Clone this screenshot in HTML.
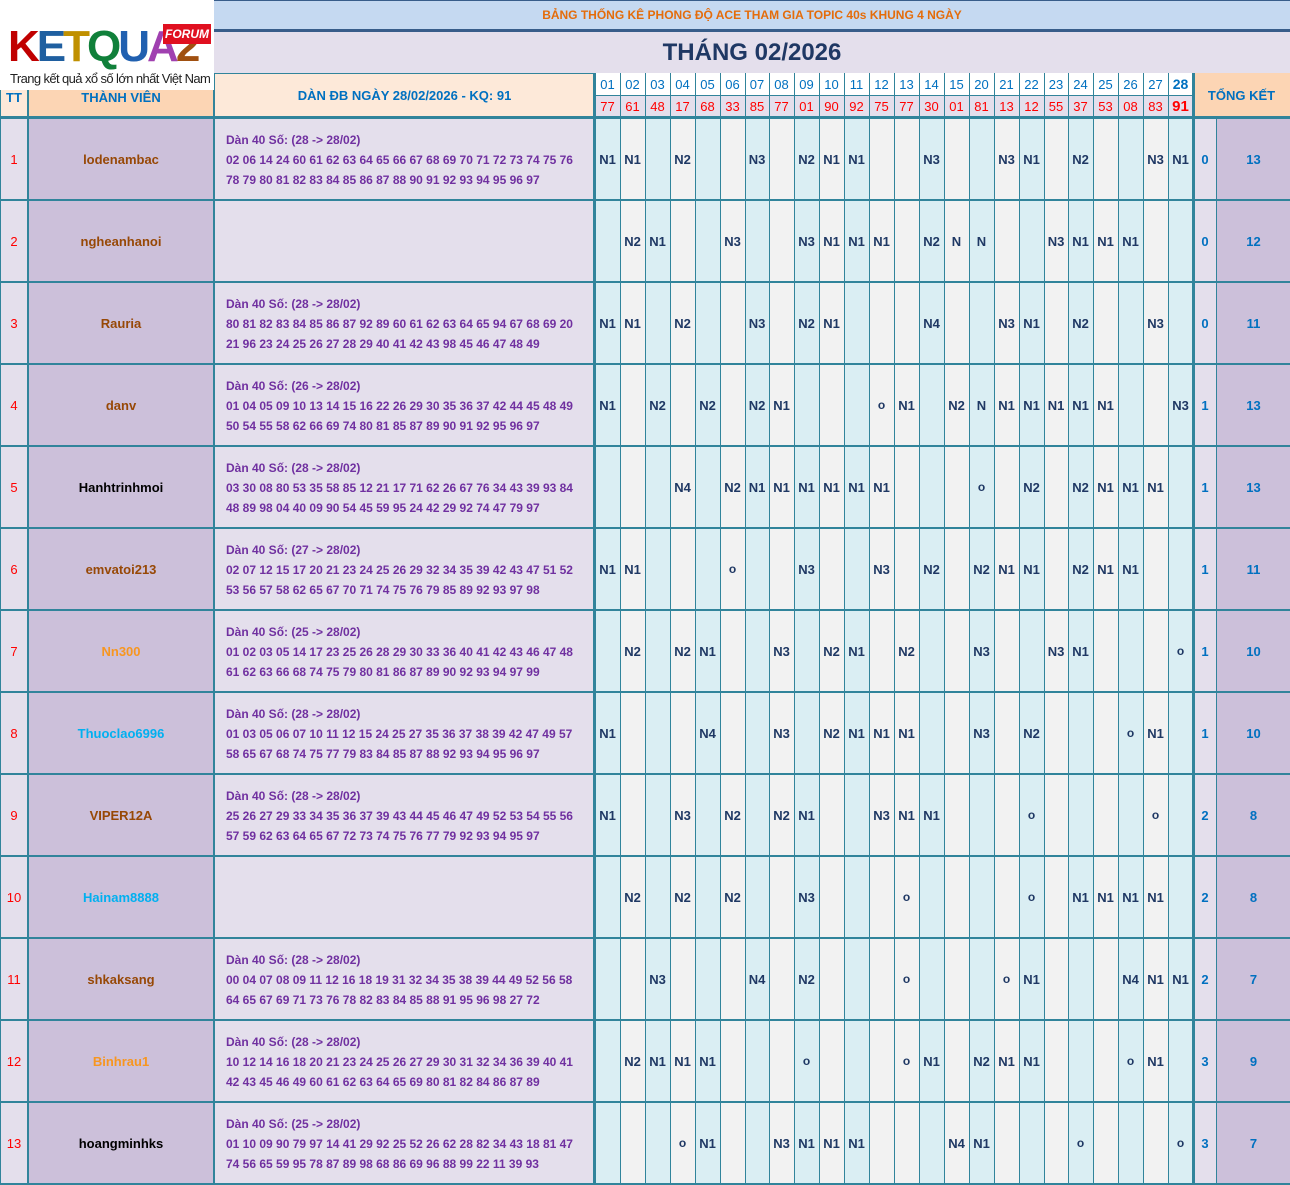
<!DOCTYPE html>
<html><head><meta charset="utf-8">
<style>
*{margin:0;padding:0;box-sizing:border-box}
body{width:1290px;height:1185px;position:relative;background:#fff;font-family:"Liberation Sans",sans-serif;overflow:hidden}
.a{position:absolute}
.c{position:absolute;display:flex;align-items:center;justify-content:center;font-weight:bold;white-space:nowrap}
.d{position:absolute;font-weight:bold;font-size:12px;color:#7030a0;line-height:20px;white-space:nowrap}
#logo{position:absolute;left:0;top:0;width:214px;height:90px;z-index:5}
</style></head><body>
<div class="a" style="left:214px;top:0;width:1076px;height:30px;background:#c5d9f1;border-top:1px solid #385d8a"></div>
<div class="c" style="left:214px;top:2px;width:1076px;height:26px;color:#e46c0a;font-size:12px">BẢNG THỐNG KÊ PHONG ĐỘ ACE THAM GIA TOPIC 40s KHUNG 4 NGÀY</div>
<div class="a" style="left:214px;top:29px;width:1076px;height:3px;background:#385d8a"></div>
<div class="a" style="left:214px;top:32px;width:1076px;height:41px;background:#e4dfec"></div>
<div class="c" style="left:214px;top:32px;width:1076px;height:41px;color:#1f3864;font-size:24px">THÁNG 02/2026</div>
<div id="g"></div>
<div id="logo">
<div class="a" style="left:0;top:0;width:214px;height:90px;background:#fff"></div>
<div class="a" style="left:8px;top:20px;width:155px;height:54px;font-weight:bold;font-size:44px;letter-spacing:-3px;line-height:54px">
<span style="color:#c00000">K</span><span style="color:#1f5fa0">E</span><span style="color:#c09000">T</span><span style="color:#10803a">Q</span><span style="color:#2060b0">U</span><span style="color:#a040b0">A</span><span style="color:#a05010">2</span></div>
<div class="c" style="left:163px;top:24px;width:48px;height:20px;background:#e01020;color:#fff;font-size:12px;font-style:italic">FORUM</div>
<div class="a" style="left:10px;top:71px;font-size:13px;color:#222;white-space:nowrap;letter-spacing:-0.6px">Trang kết quả xổ số lớn nhất Việt Nam</div>
</div>
<script>
var H='';
function box(l,t,w,h,bg,txt,col,fs,extra){H+='<div class="c" style="left:'+l+'px;top:'+t+'px;width:'+w+'px;height:'+h+'px;background:'+bg+';color:'+col+';font-size:'+fs+'px;'+(extra||'')+'">'+txt+'</div>';}
function line(l,t,w,h,c){H+='<div class="a" style="left:'+l+'px;top:'+t+'px;width:'+w+'px;height:'+h+'px;background:'+c+'"></div>';}
var days=['01','02','03','04','05','06','07','08','09','10','11','12','13','14','15','20','21','22','23','24','25','26','27','28'];
var kq=['77','61','48','17','68','33','85','77','01','90','92','75','77','30','01','81','13','12','55','37','53','08','83','91'];
var blue={'01':1,'03':1,'05':1,'07':1,'09':1,'11':1,'14':1,'20':1,'22':1,'24':1,'26':1,'28':1};
var x0=595,cw=24.92;
function cx(i){return Math.round(x0+i*cw);}
box(0,73,28,45,'#fde9d9','','#0070c0',13);
box(0,86,28,22,'transparent','TT','#0070c0',13);
box(28,73,186,45,'#fcd5b4','','#0070c0',13);
box(28,86,186,22,'transparent','THÀNH VIÊN','#0070c0',13);
box(214,73,381,45,'#fde9d9','DÀN ĐB NGÀY 28/02/2026 - KQ: 91','#0070c0',13);
for(var i=0;i<24;i++){var l=cx(i),w=cx(i+1)-l;
 box(l,73,w,22,'#fff',days[i],'#0070c0',i==23?14:13,'font-weight:'+(i==23?'bold':'normal'));
 box(l,95,w,23,'#e4dfec',kq[i],'#ff0000',i==23?15:13,'font-weight:'+(i==23?'bold':'normal'));
 line(l,73,1,45,'#31849b');}
line(595,95,598,1,'#31849b');
box(1193,73,97,45,'#fcd5b4','TỔNG KẾT','#0070c0',13);
line(0,73,595,1,'#31849b');
var R=[
['lodenambac','#974806','(28 -> 28/02)','02 06 14 24 60 61 62 63 64 65 66 67 68 69 70 71 72 73 74 75 76','78 79 80 81 82 83 84 85 86 87 88 90 91 92 93 94 95 96 97',{'01':'N1','02':'N1','04':'N2','07':'N3','09':'N2','10':'N1','11':'N1','14':'N3','21':'N3','22':'N1','24':'N2','27':'N3','28':'N1'},0,13],
['ngheanhanoi','#974806','','','',{'02':'N2','03':'N1','06':'N3','09':'N3','10':'N1','11':'N1','12':'N1','14':'N2','15':'N','20':'N','23':'N3','24':'N1','25':'N1','26':'N1'},0,12],
['Rauria','#974806','(28 -> 28/02)','80 81 82 83 84 85 86 87 92 89 60 61 62 63 64 65 94 67 68 69 20','21 96 23 24 25 26 27 28 29 40 41 42 43 98 45 46 47 48 49',{'01':'N1','02':'N1','04':'N2','07':'N3','09':'N2','10':'N1','14':'N4','21':'N3','22':'N1','24':'N2','27':'N3'},0,11],
['danv','#974806','(26 -> 28/02)','01 04 05 09 10 13 14 15 16 22 26 29 30 35 36 37 42 44 45 48 49','50 54 55 58 62 66 69 74 80 81 85 87 89 90 91 92 95 96 97',{'01':'N1','03':'N2','05':'N2','07':'N2','08':'N1','12':'o','13':'N1','15':'N2','20':'N','21':'N1','22':'N1','23':'N1','24':'N1','25':'N1','28':'N3'},1,13],
['Hanhtrinhmoi','#000','(28 -> 28/02)','03 30 08 80 53 35 58 85 12 21 17 71 62 26 67 76 34 43 39 93 84','48 89 98 04 40 09 90 54 45 59 95 24 42 29 92 74 47 79 97',{'04':'N4','06':'N2','07':'N1','08':'N1','09':'N1','10':'N1','11':'N1','12':'N1','20':'o','22':'N2','24':'N2','25':'N1','26':'N1','27':'N1'},1,13],
['emvatoi213','#974806','(27 -> 28/02)','02 07 12 15 17 20 21 23 24 25 26 29 32 34 35 39 42 43 47 51 52','53 56 57 58 62 65 67 70 71 74 75 76 79 85 89 92 93 97 98',{'01':'N1','02':'N1','06':'o','09':'N3','12':'N3','14':'N2','20':'N2','21':'N1','22':'N1','24':'N2','25':'N1','26':'N1'},1,11],
['Nn300','#f79620','(25 -> 28/02)','01 02 03 05 14 17 23 25 26 28 29 30 33 36 40 41 42 43 46 47 48','61 62 63 66 68 74 75 79 80 81 86 87 89 90 92 93 94 97 99',{'02':'N2','04':'N2','05':'N1','08':'N3','10':'N2','11':'N1','13':'N2','20':'N3','23':'N3','24':'N1','28':'o'},1,10],
['Thuoclao6996','#00b0f0','(28 -> 28/02)','01 03 05 06 07 10 11 12 15 24 25 27 35 36 37 38 39 42 47 49 57','58 65 67 68 74 75 77 79 83 84 85 87 88 92 93 94 95 96 97',{'01':'N1','05':'N4','08':'N3','10':'N2','11':'N1','12':'N1','13':'N1','20':'N3','22':'N2','26':'o','27':'N1'},1,10],
['VIPER12A','#974806','(28 -> 28/02)','25 26 27 29 33 34 35 36 37 39 43 44 45 46 47 49 52 53 54 55 56','57 59 62 63 64 65 67 72 73 74 75 76 77 79 92 93 94 95 97',{'01':'N1','04':'N3','06':'N2','08':'N2','09':'N1','12':'N3','13':'N1','14':'N1','22':'o','27':'o'},2,8],
['Hainam8888','#00b0f0','','','',{'02':'N2','04':'N2','06':'N2','09':'N3','13':'o','22':'o','24':'N1','25':'N1','26':'N1','27':'N1'},2,8],
['shkaksang','#974806','(28 -> 28/02)','00 04 07 08 09 11 12 16 18 19 31 32 34 35 38 39 44 49 52 56 58','64 65 67 69 71 73 76 78 82 83 84 85 88 91 95 96 98 27 72',{'03':'N3','07':'N4','09':'N2','13':'o','21':'o','22':'N1','26':'N4','27':'N1','28':'N1'},2,7],
['Binhrau1','#f79620','(28 -> 28/02)','10 12 14 16 18 20 21 23 24 25 26 27 29 30 31 32 34 36 39 40 41','42 43 45 46 49 60 61 62 63 64 65 69 80 81 82 84 86 87 89',{'02':'N2','03':'N1','04':'N1','05':'N1','09':'o','13':'o','14':'N1','20':'N2','21':'N1','22':'N1','26':'o','27':'N1'},3,9],
['hoangminhks','#000','(25 -> 28/02)','01 10 09 90 79 97 14 41 29 92 25 52 26 62 28 82 34 43 18 81 47','74 56 65 59 95 78 87 89 98 68 86 69 96 88 99 22 11 39 93',{'04':'o','05':'N1','08':'N3','09':'N1','10':'N1','11':'N1','15':'N4','20':'N1','24':'o','28':'o'},3,7]
];
for(var r=0;r<13;r++){var t=118+r*82,d=R[r];
 box(0,t,28,82,'#e4dfec',(r+1),'#ff0000',13,'font-weight:normal');
 box(28,t,186,82,'#ccc0da',d[0],d[1],13);
 box(214,t,381,82,'#e4dfec','','',12);
 if(d[2]){H+='<div class="d" style="left:226px;top:'+(t+12)+'px">Dàn 40 Số: '+d[2]+'<br>'+d[3]+'<br>'+d[4]+'</div>';}
 for(var i=0;i<24;i++){var l=cx(i),w=cx(i+1)-l,k=days[i],v=d[5][k]||'';
  box(l,t,w,82,blue[k]?'#daeef3':'#f2f2f2',v,'#1f3864',v=='o'?12:13);
  line(l,t,1,82,'#31849b');}
 box(1193,t,24,82,'#e4dfec',d[6],'#0070c0',13);
 box(1217,t,73,82,'#ccc0da',d[7],'#0070c0',13);
 line(0,t-1,1290,2,'#31849b');
}
line(0,1183,1290,2,'#31849b');
line(0,73,1,1112,'#31849b');line(27,73,2,1112,'#31849b');line(213,73,2,1112,'#31849b');
line(593,73,3,1112,'#31849b');line(1192,73,3,1112,'#31849b');line(1216,118,1,1067,'#31849b');
line(0,116,1290,3,'#31849b');
document.getElementById('g').innerHTML=H;
</script>
</body></html>
